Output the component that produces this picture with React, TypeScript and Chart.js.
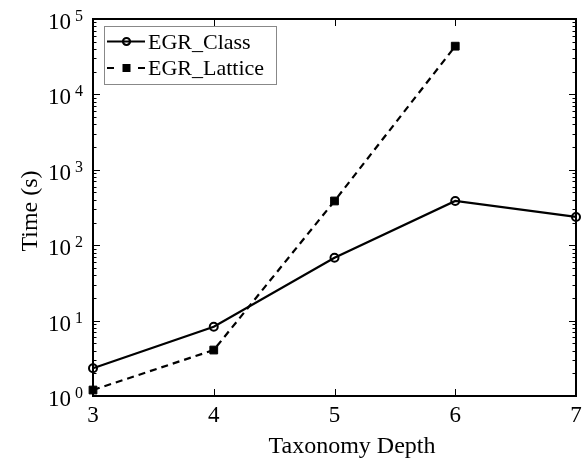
import React, { useEffect, useRef } from "react";
import { Chart, registerables } from "chart.js";

Chart.register(...registerables);

// ---- data ----
const depths = [3, 4, 5, 6, 7];
const egrClass = [2.33, 8.3, 68, 386, 237];
const egrLattice = [1.2, 4.07, 386, 43600];
const seriesLabels = ["EGR_Class", "EGR_Lattice"];
const xTicks = [3, 4, 5, 6, 7];
const yExponents = [0, 1, 2, 3, 4, 5];
const xTitle = "Taxonomy Depth";
const yTitle = "Time (s)";

const FONT = '"Liberation Serif", "Times New Roman", serif';

const framePlugin = {
  id: "framePlugin",
  afterDraw(chart: any) {
    const { ctx, chartArea } = chart;
    const xs = chart.scales.x;
    const ys = chart.scales.y;
    const { left, right, top, bottom } = chartArea;
    ctx.save();
    ctx.strokeStyle = "#000";
    ctx.fillStyle = "#000";

    // frame
    ctx.lineWidth = 2;
    ctx.strokeRect(left, top, right - left, bottom - top);

    // x ticks (inward, bottom and top)
    ctx.lineWidth = 1;
    xTicks.forEach((v) => {
      const px = Math.round(xs.getPixelForValue(v)) + 0.5;
      ctx.beginPath();
      ctx.moveTo(px, bottom);
      ctx.lineTo(px, bottom - 7);
      ctx.moveTo(px, top);
      ctx.lineTo(px, top + 7);
      ctx.stroke();
    });

    // y ticks major + minor (inward, left and right)
    yExponents.forEach((e) => {
      const base = Math.pow(10, e);
      const py = Math.round(ys.getPixelForValue(base)) + 0.5;
      ctx.beginPath();
      ctx.moveTo(left, py);
      ctx.lineTo(left + 7, py);
      ctx.moveTo(right, py);
      ctx.lineTo(right - 7, py);
      ctx.stroke();
      if (e < yExponents[yExponents.length - 1]) {
        for (let m = 2; m <= 9; m++) {
          const my = Math.round(ys.getPixelForValue(base * m)) + 0.5;
          ctx.beginPath();
          ctx.moveTo(left, my);
          ctx.lineTo(left + 3.5, my);
          ctx.moveTo(right, my);
          ctx.lineTo(right - 3.5, my);
          ctx.stroke();
        }
      }
    });

    // x tick labels
    ctx.font = `23px ${FONT}`;
    ctx.textAlign = "center";
    ctx.textBaseline = "alphabetic";
    xTicks.forEach((v) => {
      ctx.fillText(String(v), xs.getPixelForValue(v), bottom + 26);
    });

    // y tick labels 10^e
    yExponents.forEach((e) => {
      const py = ys.getPixelForValue(Math.pow(10, e));
      ctx.font = `23px ${FONT}`;
      ctx.textAlign = "right";
      ctx.fillText("10", left - 22, py + 10);
      ctx.font = `16px ${FONT}`;
      ctx.textAlign = "left";
      ctx.fillText(String(e), left - 18, py + 2);
    });

    // axis titles
    ctx.font = `24px ${FONT}`;
    ctx.textAlign = "center";
    ctx.fillText(xTitle, 352, 453);
    ctx.save();
    ctx.translate(37, 211);
    ctx.rotate(-Math.PI / 2);
    ctx.fillText(yTitle, 0, 0);
    ctx.restore();

    // legend
    const lx = 104.5, ly = 26.5, lw = 172, lh = 58;
    ctx.fillStyle = "#fff";
    ctx.fillRect(lx, ly, lw, lh);
    ctx.strokeStyle = "#888";
    ctx.lineWidth = 1;
    ctx.strokeRect(lx, ly, lw, lh);

    ctx.strokeStyle = "#000";
    ctx.fillStyle = "#000";
    ctx.lineWidth = 2.2;
    // row 1: solid line with hollow circle
    const r1 = 41.5;
    ctx.beginPath();
    ctx.moveTo(107, r1);
    ctx.lineTo(145, r1);
    ctx.stroke();
    ctx.beginPath();
    ctx.arc(126.5, r1, 3.5, 0, Math.PI * 2);
    ctx.stroke();
    // row 2: dashes with filled square
    const r2 = 68;
    ctx.beginPath();
    ctx.moveTo(107, r2);
    ctx.lineTo(114, r2);
    ctx.moveTo(138, r2);
    ctx.lineTo(145, r2);
    ctx.stroke();
    ctx.fillRect(122.5, r2 - 4, 8, 8);

    ctx.font = `22px ${FONT}`;
    ctx.textAlign = "left";
    ctx.fillText(seriesLabels[0], 148, 48.5);
    ctx.fillText(seriesLabels[1], 148, 75);

    ctx.restore();
  },
};

export default function App() {
  const ref = useRef<HTMLCanvasElement | null>(null);

  useEffect(() => {
    document.body.style.margin = "0";
    const canvas = ref.current;
    if (!canvas) return;
    const chart = new Chart(canvas, {
      type: "line",
      data: {
        datasets: [
          {
            label: seriesLabels[0],
            data: depths.map((d, i) => ({ x: d, y: egrClass[i] })),
            borderColor: "#000",
            borderWidth: 2.2,
            pointStyle: "circle",
            pointRadius: 4,
            pointBorderWidth: 2,
            pointBorderColor: "#000",
            pointBackgroundColor: "rgba(0,0,0,0)",
            tension: 0,
            clip: false as any,
          },
          {
            label: seriesLabels[1],
            data: egrLattice.map((v, i) => ({ x: depths[i], y: v })),
            borderColor: "#000",
            borderWidth: 2.2,
            borderDash: [7, 5],
            pointStyle: "rect",
            pointRadius: 5.5,
            pointBorderWidth: 1,
            pointBorderColor: "#000",
            pointBackgroundColor: "#000",
            tension: 0,
            clip: false as any,
          },
        ],
      },
      options: {
        animation: false,
        responsive: false,
        maintainAspectRatio: false,
        layout: { padding: { left: 93, right: 7, top: 19, bottom: 65 } },
        plugins: {
          legend: { display: false },
          tooltip: { enabled: false },
        },
        scales: {
          x: { type: "linear", min: 3, max: 7, display: false },
          y: { type: "logarithmic", min: 1, max: 100000, display: false },
        },
      },
      plugins: [framePlugin],
    });
    return () => chart.destroy();
  }, []);

  return (
    <canvas
      ref={ref}
      width={583}
      height={461}
      style={{ position: "absolute", left: 0, top: 0, width: 583, height: 461 }}
    />
  );
}
